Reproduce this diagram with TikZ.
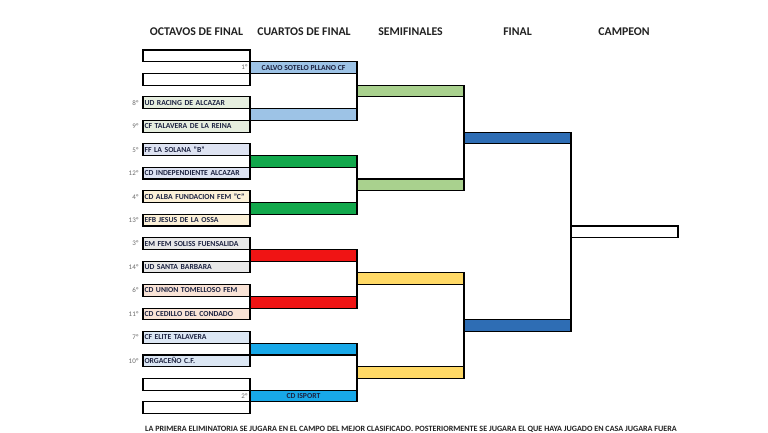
\documentclass[tikz,border=0pt]{standalone}
\usepackage{fontspec}
\setmainfont{Carlito}
\definecolor{teamtxt}{HTML}{1C2240}
\definecolor{seedtxt}{HTML}{6A6A6A}
\definecolor{hdrtxt}{HTML}{222222}
\definecolor{cGreenPale}{HTML}{E6EEDF}
\definecolor{cLav}{HTML}{DEE3F2}
\definecolor{cYelPale}{HTML}{FCF1D8}
\definecolor{cGrayPale}{HTML}{E8E8E8}
\definecolor{cPeach}{HTML}{F9E3D6}
\definecolor{cBluePale}{HTML}{DCE7F4}
\definecolor{qLightBlue}{HTML}{9DC3E6}
\definecolor{qGreen}{HTML}{12A84C}
\definecolor{qRed}{HTML}{F01414}
\definecolor{qCyan}{HTML}{18A8E8}
\definecolor{sGreen}{HTML}{A9D18E}
\definecolor{sYellow}{HTML}{FFD966}
\definecolor{fBlue}{HTML}{2E6DB4}
\tikzset{
  box/.style={draw=black, line width=1.1pt, minimum width=107pt, minimum height=11.73pt,
    anchor=north west, inner sep=0pt, outer sep=0pt},
  team/.style={box, text width=104pt, inner xsep=1.5pt, align=left,
    font=\bfseries\fontsize{7.7}{8}\selectfont, text=teamtxt},
  qfname/.style={box, font=\bfseries\fontsize{7.7}{8}\selectfont, text=teamtxt},
  seed/.style={anchor=east, inner sep=0pt, font=\fontsize{7}{8}\selectfont, text=seedtxt},
  hdr/.style={font=\bfseries\fontsize{11.8}{13}\selectfont, text=hdrtxt, inner sep=0pt},
  link/.style={draw=black, line width=1.1pt}
}
\begin{document}
\begin{tikzpicture}[x=1pt,y=-1pt]
\useasboundingbox (0,0) rectangle (768,432);
\fill[white] (0,0) rectangle (768,432);
% headers
\node[hdr] (h1) at (196.5,31.7) {OCTAVOS DE FINAL};
\node[hdr] (h2) at (304,31.7) {CUARTOS DE FINAL};
\node[hdr] (h3) at (410.5,31.7) {SEMIFINALES};
\node[hdr] (h4) at (517.5,31.7) {FINAL};
\node[hdr] (h5) at (624,31.7) {CAMPEON};
% octavos
\node[team] (o1) at (143,{50+11.73*0}) {};
\node[team] (o2) at (143,{50+11.73*2}) {};
\node[team, fill=cGreenPale] (o3) at (143,{50+11.73*4}) {UD RACING DE ALCAZAR};
\node[team, fill=cGreenPale] (o4) at (143,{50+11.73*6}) {CF TALAVERA DE LA REINA};
\node[team, fill=cLav] (o5) at (143,{50+11.73*8}) {FF LA SOLANA "B"};
\node[team, fill=cLav] (o6) at (143,{50+11.73*10}) {CD INDEPENDIENTE ALCAZAR};
\node[team, fill=cYelPale] (o7) at (143,{50+11.73*12}) {CD ALBA FUNDACION FEM "C"};
\node[team, fill=cYelPale] (o8) at (143,{50+11.73*14}) {EFB JESUS DE LA OSSA};
\node[team, fill=cGrayPale] (o9) at (143,{50+11.73*16}) {EM FEM SOLISS FUENSALIDA};
\node[team, fill=cGrayPale] (o10) at (143,{50+11.73*18}) {UD SANTA BARBARA};
\node[team, fill=cPeach] (o11) at (143,{50+11.73*20}) {CD UNION TOMELLOSO FEM};
\node[team, fill=cPeach] (o12) at (143,{50+11.73*22}) {CD CEDILLO DEL CONDADO};
\node[team, fill=cBluePale] (o13) at (143,{50+11.73*24}) {CF ELITE TALAVERA};
\node[team, fill=cBluePale] (o14) at (143,{50+11.73*26}) {ORGACEÑO C.F.};
\node[team] (o15) at (143,{50+11.73*28}) {};
\node[team] (o16) at (143,{50+11.73*30}) {};
% seeds
\node[seed] (s1) at (248,{50+11.73*1+5.87}) {1º};
\node[seed] (s8) at (139,{50+11.73*4+5.87}) {8º};
\node[seed] (s9) at (139,{50+11.73*6+5.87}) {9º};
\node[seed] (s5) at (139,{50+11.73*8+5.87}) {5º};
\node[seed] (s12) at (139,{50+11.73*10+5.87}) {12º};
\node[seed] (s4) at (139,{50+11.73*12+5.87}) {4º};
\node[seed] (s13) at (139,{50+11.73*14+5.87}) {13º};
\node[seed] (s3) at (139,{50+11.73*16+5.87}) {3º};
\node[seed] (s14) at (139,{50+11.73*18+5.87}) {14º};
\node[seed] (s6) at (139,{50+11.73*20+5.87}) {6º};
\node[seed] (s11) at (139,{50+11.73*22+5.87}) {11º};
\node[seed] (s7) at (139,{50+11.73*24+5.87}) {7º};
\node[seed] (s10) at (139,{50+11.73*26+5.87}) {10º};
\node[seed] (s2) at (248,{50+11.73*29+5.87}) {2º};
% cuartos
\node[qfname, fill=qLightBlue] (q1) at (250,{50+11.73*1}) {CALVO SOTELO PLLANO CF};
\node[box, fill=qLightBlue] (q2) at (250,{50+11.73*5}) {};
\node[box, fill=qGreen] (q3) at (250,{50+11.73*9}) {};
\node[box, fill=qGreen] (q4) at (250,{50+11.73*13}) {};
\node[box, fill=qRed] (q5) at (250,{50+11.73*17}) {};
\node[box, fill=qRed] (q6) at (250,{50+11.73*21}) {};
\node[box, fill=qCyan] (q7) at (250,{50+11.73*25}) {};
\node[qfname, fill=qCyan] (q8) at (250,{50+11.73*29}) {CD ISPORT};
% semifinales
\node[box, fill=sGreen] (sf1) at (357,{50+11.73*3}) {};
\node[box, fill=sGreen] (sf2) at (357,{50+11.73*11}) {};
\node[box, fill=sYellow] (sf3) at (357,{50+11.73*19}) {};
\node[box, fill=sYellow] (sf4) at (357,{50+11.73*27}) {};
% final
\node[box, fill=fBlue] (f1) at (464,{50+11.73*7}) {};
\node[box, fill=fBlue] (f2) at (464,{50+11.73*23}) {};
% campeon
\node[box, fill=white] (c1) at (571,{50+11.73*15}) {};
% connectors
\draw[link] (q1.north east) -- (q2.south east);
\draw[link] (q3.north east) -- (q4.south east);
\draw[link] (q5.north east) -- (q6.south east);
\draw[link] (q7.north east) -- (q8.south east);
\draw[link] (sf1.north east) -- (sf2.south east);
\draw[link] (sf3.north east) -- (sf4.south east);
\draw[link] (f1.north east) -- (f2.south east);
% note
\node[anchor=north west, inner sep=0pt, font=\bfseries\fontsize{8.1}{9}\selectfont, text=hdrtxt] (note) at (145,426)
  {LA PRIMERA ELIMINATORIA SE JUGARA EN EL CAMPO DEL MEJOR CLASIFICADO. POSTERIORMENTE SE JUGARA EL QUE HAYA JUGADO EN CASA JUGARA FUERA};
\end{tikzpicture}
\end{document}
